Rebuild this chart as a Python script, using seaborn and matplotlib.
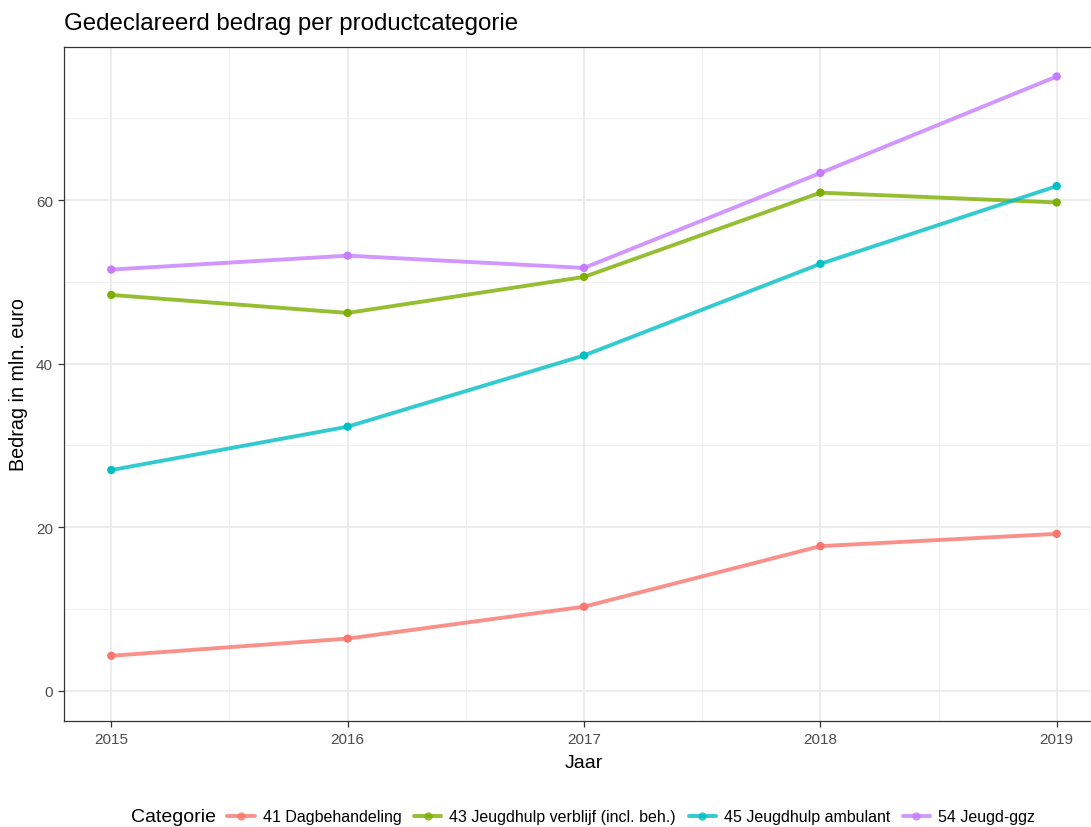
import pandas as pd
import numpy as np
import seaborn as sns
import matplotlib.pyplot as plt
from matplotlib.lines import Line2D
from matplotlib.ticker import MultipleLocator

# data (mln. euro)
jaren = [2015, 2016, 2017, 2018, 2019]
categorieen = ['41 Dagbehandeling', '43 Jeugdhulp verblijf (incl. beh.)',
               '45 Jeugdhulp ambulant', '54 Jeugd-ggz']
dagbehandeling = [4.3, 6.4, 10.3, 17.7, 19.2]
verblijf = [48.4, 46.2, 50.6, 60.9, 59.7]
ambulant = [27.0, 32.3, 41.0, 52.2, 61.7]
jeugd_ggz = [51.5, 53.2, 51.7, 63.3, 75.1]

kleuren = ['#F8766D', '#7CAE00', '#00BFC4', '#C77CFF']

df = pd.DataFrame({
    'Jaar': jaren * 4,
    'Bedrag': dagbehandeling + verblijf + ambulant + jeugd_ggz,
    'Categorie': np.repeat(categorieen, len(jaren)),
})

sns.set_theme(style='white')
plt.rcParams['font.family'] = ['Liberation Sans', 'DejaVu Sans']
plt.rcParams['text.color'] = 'black'
plt.rcParams['axes.labelcolor'] = 'black'

fig = plt.figure(figsize=(10.91, 8.28), dpi=100)
ax = fig.add_axes([64 / 1091, 1 - 722 / 828, (1104 - 64) / 1091, (722 - 48) / 828])

sns.lineplot(data=df, x='Jaar', y='Bedrag', hue='Categorie', palette=kleuren,
             linewidth=2.8, alpha=0.8, legend=False, ax=ax, zorder=3)
sns.scatterplot(data=df, x='Jaar', y='Bedrag', hue='Categorie', palette=kleuren,
                s=36, linewidth=0, legend=False, ax=ax, zorder=4)

ax.set_xlim(2014.8, 2019.2)
ax.set_ylim(-3.67, 78.7)
ax.set_xticks(jaren)
ax.xaxis.set_minor_locator(MultipleLocator(0.5))
ax.yaxis.set_major_locator(MultipleLocator(20))
ax.yaxis.set_minor_locator(MultipleLocator(10))
ax.grid(True, which='major', color='#EBEBEB', linewidth=1.3, zorder=0)
ax.grid(True, which='minor', color='#F0F0F0', linewidth=0.8, zorder=0)
ax.set_axisbelow(True)
for s in ax.spines.values():
    s.set_color('#333333')
    s.set_linewidth(0.9)
ax.tick_params(axis='both', which='major', length=4, width=0.9, color='#333333',
               labelcolor='#4D4D4D', labelsize=11, pad=4, bottom=True, left=True)
ax.tick_params(axis='both', which='minor', length=0)

ax.set_xlabel('Jaar', fontsize=14, labelpad=6)
ax.set_ylabel('Bedrag in mln. euro', fontsize=14.2, labelpad=6)
fig.text(64 / 1091, 1 - 24 / 828, 'Gedeclareerd bedrag per productcategorie',
         fontsize=17.3, va='center', ha='left')

# legend along the bottom, ggplot style
handles = [Line2D([0], [0], color=k, lw=2.8, alpha=0.8, marker='o',
                  markersize=6, markerfacecolor=k, markeredgewidth=0)
           for k in kleuren]
fig.text(131 / 1091, 1 - 818 / 828, 'Categorie', fontsize=14, va='center', ha='left')
fig.legend(handles, categorieen, loc='center left', ncol=4, frameon=False,
           bbox_to_anchor=(221 / 1091, 1 - 818 / 828), fontsize=11.5,
           handlelength=1.7, handletextpad=0.5, columnspacing=0.8, borderaxespad=0)

fig.savefig('out.png', dpi=100)
